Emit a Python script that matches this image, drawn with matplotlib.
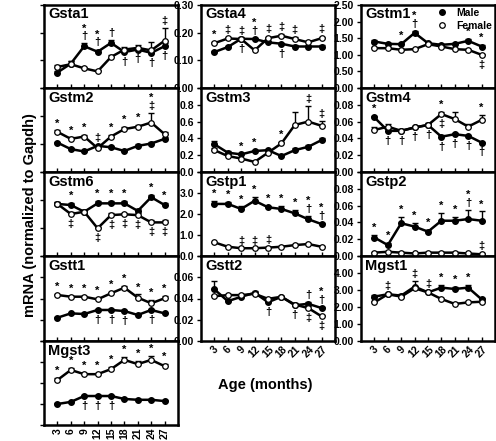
import matplotlib
matplotlib.use("Agg")
import matplotlib.pyplot as plt
from matplotlib.lines import Line2D

plt.rcParams['font.family'] = ['Liberation Sans', 'DejaVu Sans']
plt.rcParams['font.weight'] = 'bold'

ages = [3, 6, 9, 12, 15, 18, 21, 24, 27]
age_labels = ['3', '6', '9', '12', '15', '18', '21', '24', '27']

gsta1_male = [0.056, 0.088, 0.151, 0.131, 0.163, 0.130, 0.139, 0.127, 0.151]
gsta1_female = [0.076, 0.086, 0.071, 0.060, 0.112, 0.139, 0.145, 0.136, 0.171]
gsta1_male_err = [0.005, 0.008, 0.010, 0.008, 0.010, 0.010, 0.008, 0.008, 0.012]
gsta1_female_err = [0.008, 0.010, 0.004, 0.004, 0.006, 0.010, 0.010, 0.030, 0.045]

gsta4_male = [0.130, 0.148, 0.178, 0.177, 0.165, 0.160, 0.150, 0.150, 0.150]
gsta4_female = [0.162, 0.179, 0.177, 0.136, 0.180, 0.189, 0.177, 0.165, 0.180]
gsta4_male_err = [0.004, 0.004, 0.005, 0.005, 0.004, 0.004, 0.004, 0.004, 0.004]
gsta4_female_err = [0.005, 0.004, 0.005, 0.004, 0.006, 0.007, 0.007, 0.006, 0.006]

gstm1_male = [1.40, 1.33, 1.32, 1.66, 1.35, 1.30, 1.33, 1.42, 1.25]
gstm1_female = [1.20, 1.20, 1.15, 1.17, 1.32, 1.25, 1.17, 1.15, 1.00]
gstm1_male_err = [0.06, 0.04, 0.04, 0.06, 0.04, 0.04, 0.04, 0.05, 0.05]
gstm1_female_err = [0.03, 0.03, 0.03, 0.03, 0.04, 0.03, 0.03, 0.03, 0.03]

gstm2_male = [0.063, 0.049, 0.044, 0.056, 0.053, 0.045, 0.056, 0.061, 0.071]
gstm2_female = [0.086, 0.071, 0.076, 0.051, 0.076, 0.092, 0.097, 0.106, 0.081]
gstm2_male_err = [0.002, 0.002, 0.002, 0.002, 0.002, 0.002, 0.004, 0.003, 0.003]
gstm2_female_err = [0.003, 0.003, 0.003, 0.005, 0.003, 0.004, 0.004, 0.020, 0.004]

gstm3_male = [0.33, 0.23, 0.21, 0.25, 0.26, 0.19, 0.26, 0.30, 0.38]
gstm3_female = [0.26, 0.19, 0.16, 0.12, 0.23, 0.34, 0.56, 0.60, 0.55]
gstm3_male_err = [0.04, 0.02, 0.01, 0.01, 0.01, 0.01, 0.02, 0.02, 0.02]
gstm3_female_err = [0.02, 0.01, 0.01, 0.01, 0.01, 0.02, 0.15, 0.19, 0.06]

gstm4_male = [0.065, 0.049, 0.049, 0.053, 0.056, 0.042, 0.045, 0.043, 0.035]
gstm4_female = [0.050, 0.054, 0.049, 0.053, 0.056, 0.069, 0.063, 0.054, 0.062]
gstm4_male_err = [0.002, 0.002, 0.001, 0.001, 0.002, 0.002, 0.001, 0.001, 0.001]
gstm4_female_err = [0.003, 0.003, 0.002, 0.002, 0.002, 0.003, 0.009, 0.003, 0.006]

gstm6_male = [0.186, 0.182, 0.158, 0.188, 0.188, 0.188, 0.161, 0.210, 0.182]
gstm6_female = [0.186, 0.150, 0.158, 0.099, 0.146, 0.149, 0.146, 0.120, 0.120]
gstm6_male_err = [0.008, 0.006, 0.005, 0.008, 0.008, 0.008, 0.006, 0.008, 0.008]
gstm6_female_err = [0.008, 0.006, 0.005, 0.005, 0.006, 0.006, 0.006, 0.008, 0.008]

gstp1_male = [2.48, 2.48, 2.24, 2.63, 2.32, 2.24, 2.03, 1.75, 1.52]
gstp1_female = [0.65, 0.44, 0.37, 0.37, 0.40, 0.44, 0.52, 0.57, 0.44]
gstp1_male_err = [0.15, 0.10, 0.12, 0.20, 0.08, 0.15, 0.15, 0.15, 0.06]
gstp1_female_err = [0.03, 0.03, 0.02, 0.02, 0.02, 0.02, 0.03, 0.03, 0.03]

gstp2_male = [0.022, 0.013, 0.039, 0.035, 0.029, 0.042, 0.042, 0.044, 0.042]
gstp2_female = [0.004, 0.005, 0.004, 0.003, 0.004, 0.004, 0.004, 0.003, 0.002]
gstp2_male_err = [0.003, 0.002, 0.007, 0.004, 0.002, 0.009, 0.004, 0.011, 0.011]
gstp2_female_err = [0.001, 0.001, 0.001, 0.001, 0.001, 0.001, 0.001, 0.001, 0.001]

gstt1_male = [0.219, 0.260, 0.254, 0.292, 0.292, 0.282, 0.245, 0.292, 0.260]
gstt1_female = [0.433, 0.417, 0.417, 0.392, 0.449, 0.502, 0.408, 0.355, 0.402]
gstt1_male_err = [0.008, 0.008, 0.008, 0.010, 0.010, 0.010, 0.008, 0.010, 0.008]
gstt1_female_err = [0.010, 0.010, 0.010, 0.010, 0.010, 0.012, 0.030, 0.030, 0.020]

gstt2_male = [0.0486, 0.0375, 0.0416, 0.0454, 0.0365, 0.0416, 0.0337, 0.0350, 0.0310]
gstt2_female = [0.0422, 0.0432, 0.0432, 0.0444, 0.0397, 0.0416, 0.0343, 0.0310, 0.0232]
gstt2_male_err = [0.0080, 0.0015, 0.0015, 0.0012, 0.0012, 0.0012, 0.0015, 0.0015, 0.0012]
gstt2_female_err = [0.0015, 0.0015, 0.0012, 0.0012, 0.0012, 0.0012, 0.0015, 0.0015, 0.0015]

mgst1_male = [2.61, 2.75, 2.67, 3.20, 2.86, 3.14, 3.06, 3.14, 2.45]
mgst1_female = [2.27, 2.75, 2.61, 3.10, 2.86, 2.47, 2.18, 2.27, 2.31]
mgst1_male_err = [0.10, 0.08, 0.10, 0.35, 0.08, 0.15, 0.10, 0.15, 0.08]
mgst1_female_err = [0.06, 0.06, 0.06, 0.08, 0.06, 0.05, 0.05, 0.10, 0.05]

mgst3_male = [0.050, 0.055, 0.069, 0.069, 0.069, 0.062, 0.060, 0.060, 0.057]
mgst3_female = [0.107, 0.131, 0.121, 0.121, 0.133, 0.155, 0.145, 0.155, 0.140]
mgst3_male_err = [0.003, 0.003, 0.003, 0.003, 0.003, 0.003, 0.003, 0.003, 0.003]
mgst3_female_err = [0.004, 0.005, 0.004, 0.004, 0.006, 0.008, 0.008, 0.010, 0.006]

W, H = 496, 441
fig = plt.figure(figsize=(W / 100, H / 100), dpi=100)

col_left = [44, 201, 361]
col_w = 134
row_top = [5, 88, 172, 256, 341]
row_bot = [88, 172, 256, 341, 425]


def make_ax(col, row):
    l = col_left[col] / W
    b = 1 - row_bot[row] / H
    return fig.add_axes([l, b, col_w / W, (row_bot[row] - row_top[row]) / H])


def panel(col, row, name, male, female, merr, ferr, ylim, ystep, fmt,
          annots, show_ylabels=True, hide_top=True, xlab=None):
    ax = make_ax(col, row)
    zeros = [0] * len(ages)
    ax.errorbar(ages, female, yerr=[zeros, ferr], fmt='none', ecolor='black',
                elinewidth=1.0, capsize=2.5, capthick=1.0, zorder=2)
    ax.errorbar(ages, male, yerr=[zeros, merr], fmt='none', ecolor='black',
                elinewidth=1.0, capsize=2.5, capthick=1.0, zorder=2)
    ax.plot(ages, male, '-o', color='black', lw=1.8, ms=4.0,
            markerfacecolor='black', zorder=3)
    ax.plot(ages, female, '-o', color='black', lw=1.8, ms=4.0,
            markerfacecolor='white', markeredgewidth=0.9, zorder=4)
    ax.set_xlim(0, 30)
    ax.set_ylim(*ylim)
    n = int(round((ylim[1] - ylim[0]) / ystep))
    ticks = [ylim[0] + i * ystep for i in range(n + 1)]
    ax.set_yticks(ticks)
    if show_ylabels:
        labs = [fmt.format(t) for t in ticks]
        if hide_top:
            labs[-1] = ''
        ax.set_yticklabels(labs)
    else:
        ax.set_yticklabels([])
    ax.set_xticks(ages)
    if xlab is None:
        ax.set_xticklabels([])
    else:
        ax.set_xticklabels(age_labels, rotation=xlab, fontsize=7.5,
                           fontweight='bold')
    ax.tick_params(axis='both', direction='in', length=3, width=1.0,
                   labelsize=7.5, pad=2)
    ax.tick_params(axis='y', direction='out', length=3)
    for s in ax.spines.values():
        s.set_linewidth(1.8)
    ax.text(0.03, 0.97, name, transform=ax.transAxes, ha='left', va='top',
            fontsize=10.5, fontweight='bold')
    for idx, txt, where in annots:
        if where[0] == 'm':
            v, e = male[idx], merr[idx]
        else:
            v, e = female[idx], ferr[idx]
        if where[1] == 'u':
            ax.annotate(txt, (ages[idx], v + e), xytext=(0, 1.5),
                        textcoords='offset points', ha='center', va='bottom',
                        fontsize=8, linespacing=0.75)
        else:
            ax.annotate(txt, (ages[idx], v), xytext=(0, -3.5),
                        textcoords='offset points', ha='center', va='top',
                        fontsize=8, linespacing=0.75)
    return ax


panel(0, 0, 'Gsta1', gsta1_male, gsta1_female, gsta1_male_err, gsta1_female_err,
      (0, 0.3), 0.1, '{:.1f}',
      [(2, '*\n†', 'mu'), (3, '*\n†', 'mu'), (4, '†', 'mu'), (5, '†', 'md'),
       (6, '†', 'md'), (7, '†', 'md'), (8, '‡', 'fu'), (8, '†', 'md')],
      show_ylabels=False)
panel(1, 0, 'Gsta4', gsta4_male, gsta4_female, gsta4_male_err, gsta4_female_err,
      (0, 0.3), 0.1, '{:.2f}',
      [(0, '*', 'fu'), (1, '‡', 'fu'), (2, '‡', 'fu'), (2, '†', 'md'),
       (3, '*\n†', 'mu'), (4, '‡', 'fu'), (5, '‡', 'fu'), (5, '†', 'md'),
       (6, '‡', 'fu'), (8, '‡', 'fu')], hide_top=False)
ax_m1 = panel(2, 0, 'Gstm1', gstm1_male, gstm1_female, gstm1_male_err, gstm1_female_err,
              (0, 2.5), 0.5, '{:.2f}',
              [(2, '*', 'mu'), (3, '*\n†', 'mu'), (7, '*', 'mu'), (8, '*', 'mu'),
               (8, '‡', 'fd')], hide_top=False)
h1 = Line2D([], [], marker='o', color='black', ls='none', ms=4,
            markerfacecolor='black')
h2 = Line2D([], [], marker='o', color='black', ls='none', ms=4,
            markerfacecolor='white', markeredgewidth=0.9)
ax_m1.legend([h1, h2], ['Male', 'Female'], loc='upper right', frameon=False,
             handlelength=1.0, handletextpad=0.8,
             borderaxespad=0.1, labelspacing=0.25, borderpad=0.2,
             prop={'weight': 'bold', 'size': 7.5})

panel(0, 1, 'Gstm2', gstm2_male, gstm2_female, gstm2_male_err, gstm2_female_err,
      (0, 0.18), 0.06, '{:.2f}',
      [(0, '*', 'fu'), (1, '*', 'fu'), (2, '*', 'fu'), (3, '‡', 'mu'),
       (4, '*', 'fu'), (5, '*', 'fu'), (6, '*', 'fu'), (7, '*\n‡', 'fu')],
      show_ylabels=False)
panel(1, 1, 'Gstm3', gstm3_male, gstm3_female, gstm3_male_err, gstm3_female_err,
      (0, 1.0), 0.2, '{:.1f}',
      [(2, '*', 'mu'), (3, '*', 'mu'), (5, '*', 'fu'), (7, '‡', 'fu'),
       (8, '‡', 'fu')])
panel(2, 1, 'Gstm4', gstm4_male, gstm4_female, gstm4_male_err, gstm4_female_err,
      (0, 0.1), 0.02, '{:.2f}',
      [(0, '*', 'mu'), (1, '†', 'md'), (2, '†', 'md'), (3, '†', 'md'),
       (4, '†', 'md'), (5, '*', 'fu'), (5, '‡', 'fd'), (5, '†', 'md'),
       (6, '†', 'md'), (7, '†', 'md'), (8, '*', 'fu'), (8, '†', 'md')])

panel(0, 2, 'Gstm6', gstm6_male, gstm6_female, gstm6_male_err, gstm6_female_err,
      (0, 0.3), 0.1, '{:.1f}',
      [(1, '*', 'mu'), (1, '‡', 'fd'), (3, '*', 'mu'), (3, '‡', 'fd'),
       (4, '*', 'mu'), (4, '‡', 'fd'), (5, '*', 'mu'), (5, '‡', 'fd'),
       (6, '‡', 'fd'), (7, '*', 'mu'), (7, '‡', 'fd'), (8, '*', 'mu'),
       (8, '‡', 'fd')], show_ylabels=False)
panel(1, 2, 'Gstp1', gstp1_male, gstp1_female, gstp1_male_err, gstp1_female_err,
      (0, 4.0), 1.0, '{:.1f}',
      [(0, '*', 'mu'), (1, '*', 'mu'), (2, '*', 'mu'), (3, '*', 'mu'),
       (4, '*', 'mu'), (5, '*', 'mu'), (6, '*', 'mu'), (7, '*\n†', 'mu'),
       (8, '*\n†', 'mu'), (2, '‡', 'fu'), (3, '‡', 'fu'), (4, '‡', 'fu')])
panel(2, 2, 'Gstp2', gstp2_male, gstp2_female, gstp2_male_err, gstp2_female_err,
      (0, 0.1), 0.02, '{:.2f}',
      [(0, '*', 'mu'), (1, '*', 'mu'), (2, '*', 'mu'), (3, '*', 'mu'),
       (4, '*', 'mu'), (5, '*', 'mu'), (6, '*', 'mu'), (7, '*\n†', 'mu'),
       (8, '*', 'mu'), (8, '‡', 'fu')])

panel(0, 3, 'Gstt1', gstt1_male, gstt1_female, gstt1_male_err, gstt1_female_err,
      (0, 0.8), 0.2, '{:.1f}',
      [(i, '*', 'fu') for i in range(9)] +
      [(3, '†', 'md'), (4, '†', 'md'), (5, '†', 'md'), (7, '†', 'md')],
      show_ylabels=False)
panel(1, 3, 'Gstt2', gstt2_male, gstt2_female, gstt2_male_err, gstt2_female_err,
      (0, 0.08), 0.02, '{:.2f}',
      [(4, '†', 'md'), (6, '†', 'md'), (7, '†', 'mu'), (7, '‡', 'fd'),
       (8, '*\n†', 'mu'), (8, '‡', 'fd')], xlab=45)
panel(2, 3, 'Mgst1', mgst1_male, mgst1_female, mgst1_male_err, mgst1_female_err,
      (0, 5.0), 1.0, '{:.2f}',
      [(1, '‡', 'mu'), (3, '‡', 'mu'), (4, '‡', 'mu'), (5, '*', 'mu'),
       (6, '*', 'mu'), (7, '*', 'mu')], xlab=45)

panel(0, 4, 'Mgst3', mgst3_male, mgst3_female, mgst3_male_err, mgst3_female_err,
      (0, 0.2), 0.05, '{:.2f}',
      [(i, '*', 'fu') for i in range(9)] +
      [(2, '†', 'md'), (3, '†', 'md'), (4, '†', 'md')],
      show_ylabels=False, xlab=90)

fig.text(265 / W, 1 - 385 / H, 'Age (months)', ha='center', va='center',
         fontsize=10.5, fontweight='bold')
fig.text(30 / W, 1 - 215 / H, 'mRNA (normalized to Gapdh)', ha='center',
         va='center', rotation=90, fontsize=10.5, fontweight='bold')

fig.savefig('out.png', dpi=100)
